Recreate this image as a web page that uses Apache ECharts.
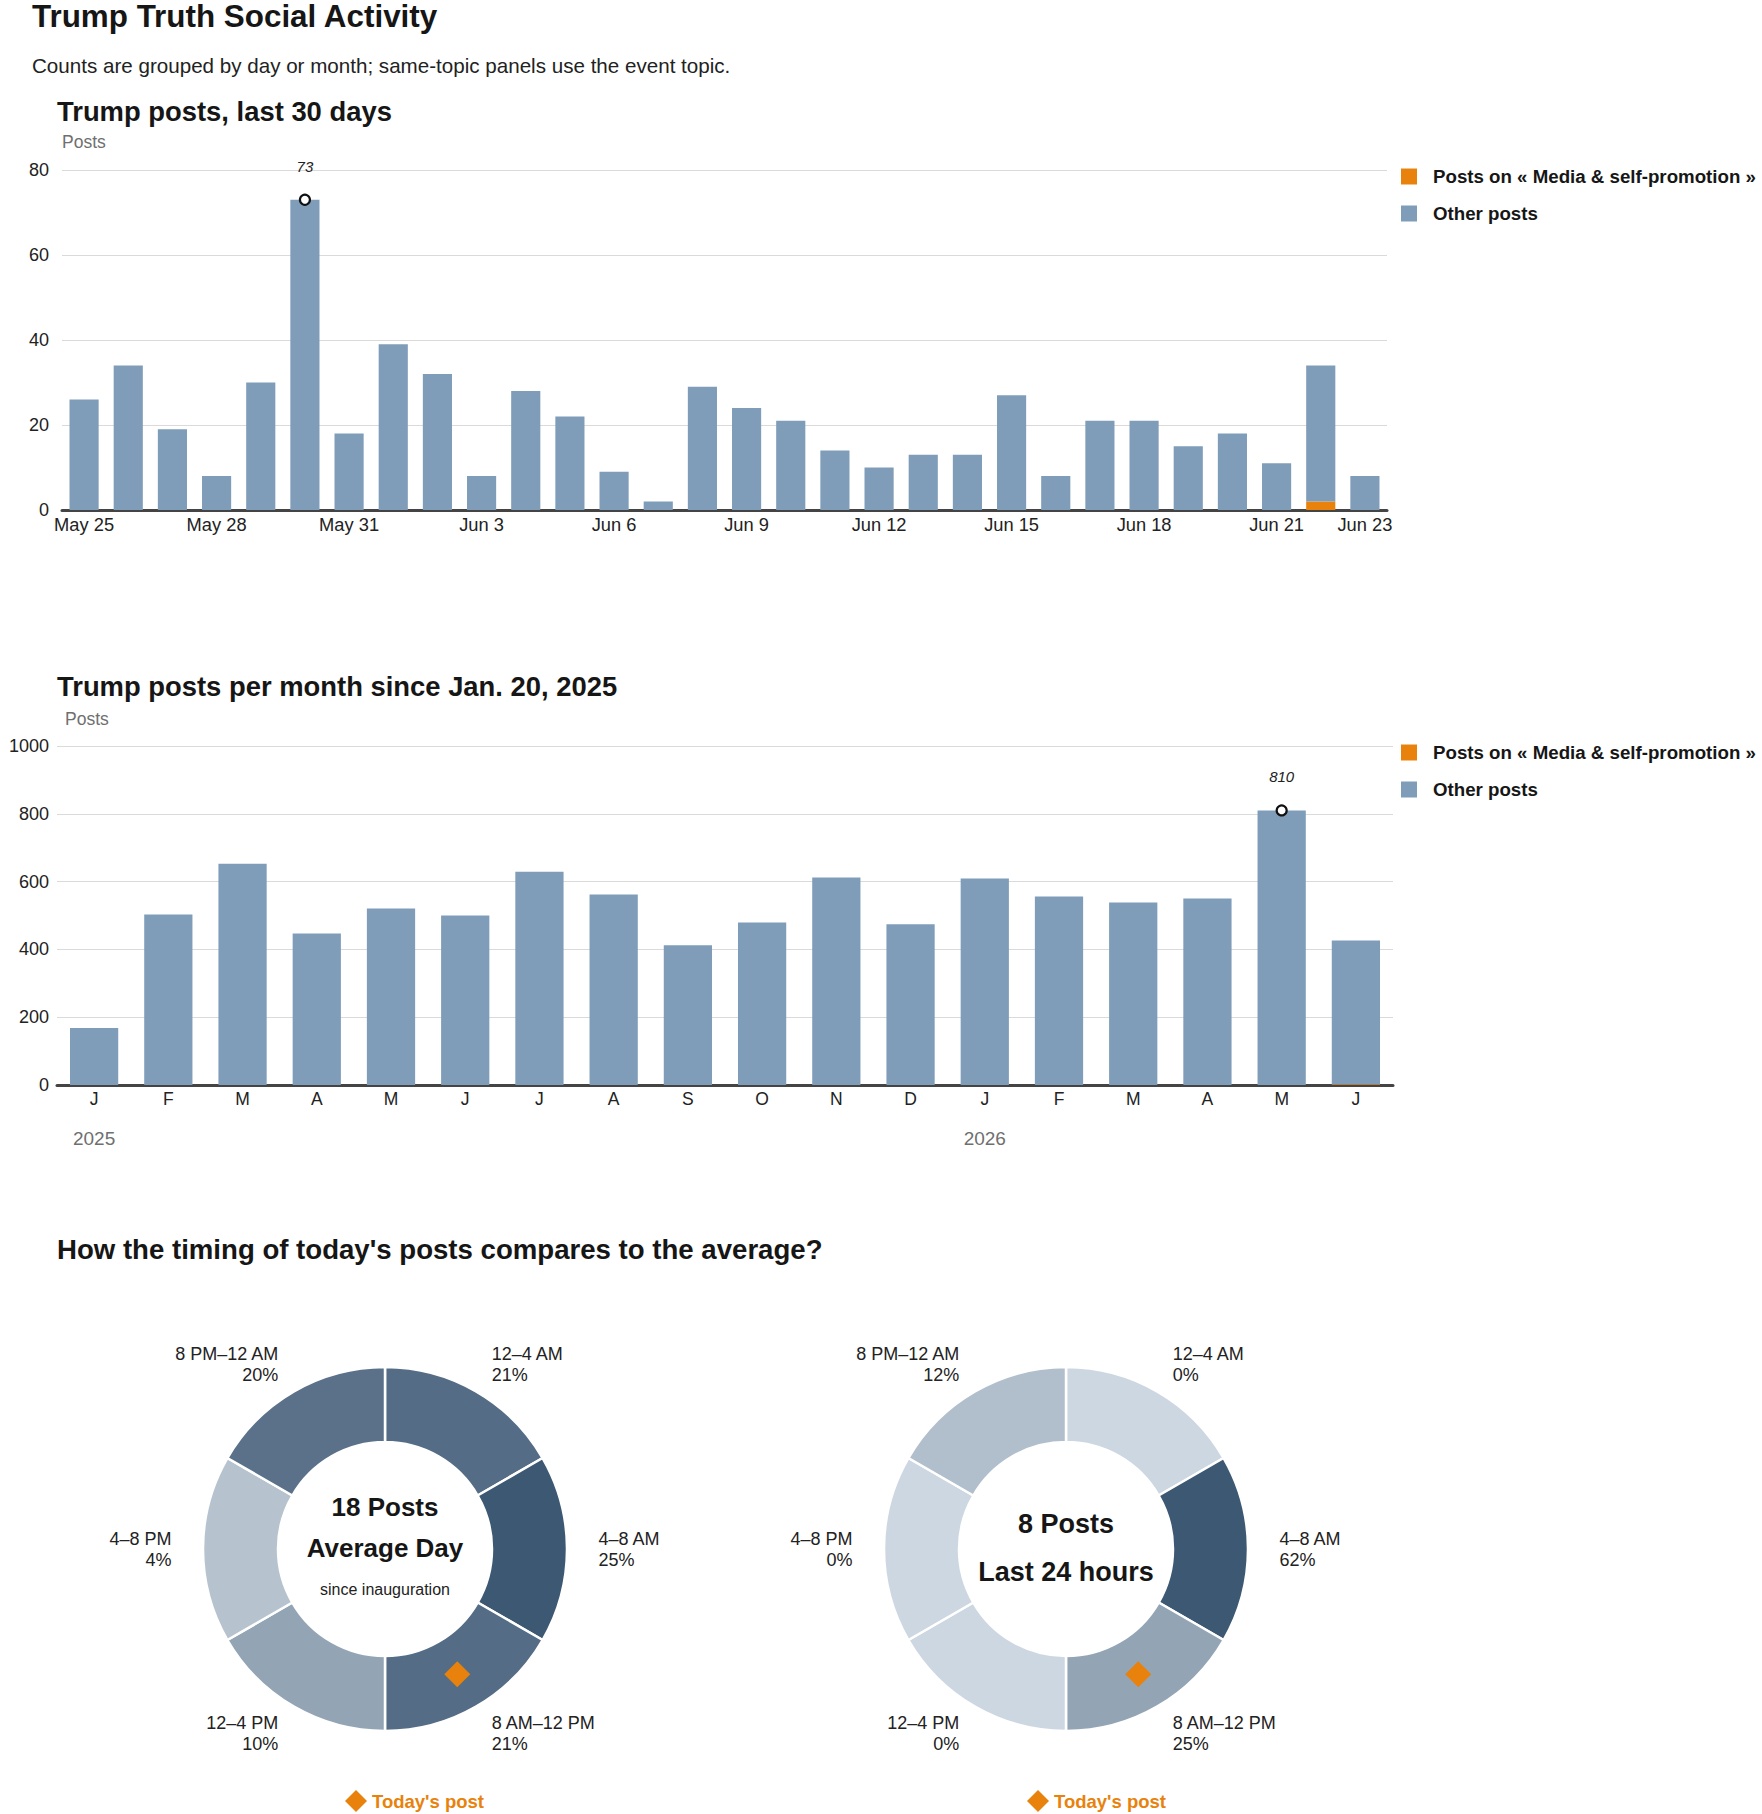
<!DOCTYPE html>
<html lang="en">
<head>
<meta charset="UTF-8">
<title>Trump Truth Social Activity</title>
<style>
  html, body { margin: 0; padding: 0; background: #fff; }
  #main { width: 1762px; height: 1814px; }
</style>
<script src="https://cdn.jsdelivr.net/npm/echarts@6/dist/echarts.min.js"></script>
</head>
<body>
<div id="main"></div>
<script>
// last 30 days
var dayLabels = ['May 25', 'May 26', 'May 27', 'May 28', 'May 29', 'May 30', 'May 31',
  'Jun 1', 'Jun 2', 'Jun 3', 'Jun 4', 'Jun 5', 'Jun 6', 'Jun 7', 'Jun 8', 'Jun 9', 'Jun 10',
  'Jun 11', 'Jun 12', 'Jun 13', 'Jun 14', 'Jun 15', 'Jun 16', 'Jun 17', 'Jun 18', 'Jun 19',
  'Jun 20', 'Jun 21', 'Jun 22', 'Jun 23'];
var dayMedia = [0, 0, 0, 0, 0, 0, 0, 0, 0, 0, 0, 0, 0, 0, 0, 0, 0, 0, 0, 0, 0, 0, 0, 0, 0, 0, 0, 0, 2, 0];
var dayOther = [26, 34, 19, 8, 30, 73, 18, 39, 32, 8, 28, 22, 9, 2, 29, 24, 21, 14, 10, 13, 13, 27, 8, 21, 21, 15, 18, 11, 32, 8];

// per month since inauguration
var monthKeys = ['2025-01', '2025-02', '2025-03', '2025-04', '2025-05', '2025-06', '2025-07', '2025-08', '2025-09',
  '2025-10', '2025-11', '2025-12', '2026-01', '2026-02', '2026-03', '2026-04', '2026-05', '2026-06'];
var monthLetters = ['J', 'F', 'M', 'A', 'M', 'J', 'J', 'A', 'S', 'O', 'N', 'D', 'J', 'F', 'M', 'A', 'M', 'J'];
var monthMedia = [0, 0, 0, 0, 0, 0, 0, 0, 0, 0, 0, 0, 0, 0, 0, 0, 0, 2];
var monthOther = [168, 503, 653, 447, 521, 500, 629, 562, 412, 479, 612, 474, 609, 556, 538, 550, 810, 424];

// time of day shares (%)
var slots = ['12–4 AM', '4–8 AM', '8 AM–12 PM', '12–4 PM', '4–8 PM', '8 PM–12 AM'];
var avgShare = [21, 25, 21, 10, 4, 20];
var lastShare = [0, 62, 25, 0, 0, 12];
var avgPosts = 18;
var lastPosts = 8;
var todaySlot = '8 AM–12 PM';

var MEDIA = 'Posts on « Media & self-promotion »';
var OTHER = 'Other posts';
var TODAY = "Today's post";
var FONT = '"Liberation Sans", Arial, sans-serif';
var NARROW = '"Liberation Sans Narrow", "Liberation Sans", sans-serif';
var BLUE = '#7f9db9', ORANGE = '#e8820c', INK = '#161616', GREY = '#6f6f6f';

function total(a, b) { return a.map(function (v, i) { return v + b[i]; }); }
function argMax(a) { var m = 0; a.forEach(function (v, i) { if (v > a[m]) m = i; }); return m; }
function mix(c1, c2, t) {
  var a = [1, 3, 5].map(function (k) { return parseInt(c1.substr(k, 2), 16); });
  var b = [1, 3, 5].map(function (k) { return parseInt(c2.substr(k, 2), 16); });
  return 'rgb(' + a.map(function (v, i) { return Math.round(v + (b[i] - v) * t); }).join(',') + ')';
}

var dayTotal = total(dayMedia, dayOther);
var monthTotal = total(monthMedia, monthOther);
var dayPeak = argMax(dayTotal), monthPeak = argMax(monthTotal);

function pieData(shares) {
  var max = Math.max.apply(null, shares);
  return slots.map(function (s, i) {
    return { name: s, value: 1, pct: shares[i],
      itemStyle: { color: mix('#cdd7e1', '#3d5873', shares[i] / max) } };
  });
}

var myChart = echarts.init(document.getElementById('main'), null, { renderer: 'svg' });

var legendText = { fontFamily: FONT, fontWeight: 'bold', fontSize: 18.7, color: INK, padding: [0, 0, 0, 11] };
var valueLabel = { fontFamily: FONT, fontSize: 18, color: '#222', formatter: function (v) { return String(v); } };
var peakStyle = {
  type: 'scatter', symbol: 'circle', symbolSize: 10, silent: true, z: 5,
  itemStyle: { color: '#fff', borderColor: '#111', borderWidth: 2.2, opacity: 1 },
  label: { show: true, position: 'top', distance: 20, fontFamily: NARROW, fontStyle: 'italic', fontSize: 15, color: '#222',
    formatter: function (p) { return p.value[1]; } }
};

function txt(x, y, text, font, fill, align, vAlign) {
  return { type: 'text', x: x, y: y, silent: true,
    style: { text: text, font: font, fill: fill || INK, align: align || 'left', verticalAlign: vAlign || 'middle' } };
}

var R0 = 107, R1 = 182;
var donutC = [[385, 1549], [1066, 1549]];

var option = {
  animation: false,
  graphic: [
    txt(32, 1, 'Trump Truth Social Activity', 'bold 31.4px ' + FONT, INK, 'left', 'top'),
    txt(32, 65, 'Counts are grouped by day or month; same-topic panels use the event topic.', '20.6px ' + FONT, '#222'),
    txt(57, 111, 'Trump posts, last 30 days', 'bold 27.4px ' + FONT),
    txt(57, 686, 'Trump posts per month since Jan. 20, 2025', 'bold 27.4px ' + FONT),
    txt(57, 1249, "How the timing of today's posts compares to the average?", 'bold 27.6px ' + FONT),
    txt(donutC[0][0], 1507, avgPosts + ' Posts', 'bold 26px ' + FONT, INK, 'center'),
    txt(donutC[0][0], 1548, 'Average Day', 'bold 26px ' + FONT, INK, 'center'),
    txt(donutC[0][0], 1589, 'since inauguration', '16px ' + FONT, '#222', 'center'),
    txt(donutC[1][0], 1524, lastPosts + ' Posts', 'bold 27px ' + FONT, INK, 'center'),
    txt(donutC[1][0], 1572, 'Last 24 hours', 'bold 27px ' + FONT, INK, 'center')
  ],
  legend: [
    { data: [MEDIA, OTHER], orient: 'vertical', left: 1401, top: 167, padding: 0, itemWidth: 16, itemHeight: 16,
      itemGap: 18, icon: 'rect', selectedMode: false, textStyle: legendText },
    { data: [MEDIA, OTHER], orient: 'vertical', left: 1401, top: 743, padding: 0, itemWidth: 16, itemHeight: 16,
      itemGap: 18, icon: 'rect', selectedMode: false, textStyle: legendText },
    { data: [{ name: TODAY, icon: 'diamond' }], left: 345, top: 1790, padding: 0, itemWidth: 22, itemHeight: 22,
      selectedMode: false, textStyle: { fontFamily: FONT, fontWeight: 'bold', fontSize: 18.5, color: ORANGE } },
    { data: [{ name: TODAY, icon: 'diamond' }], left: 1027, top: 1790, padding: 0, itemWidth: 22, itemHeight: 22,
      selectedMode: false, textStyle: { fontFamily: FONT, fontWeight: 'bold', fontSize: 18.5, color: ORANGE } }
  ],
  grid: [
    { left: 62, top: 170, width: 1325, height: 340 },
    { left: 57, top: 746, width: 1336, height: 339 }
  ],
  xAxis: [
    { type: 'category', gridIndex: 0, data: dayLabels,
      axisTick: { show: false },
      axisLine: { lineStyle: { color: '#444', width: 3 } },
      axisLabel: { fontFamily: FONT, color: '#222', fontSize: 18.3, margin: 5,
        interval: function (i) { return i % 3 === 0 || i === dayLabels.length - 1; } } },
    { type: 'category', gridIndex: 1, data: monthKeys,
      axisTick: { show: false },
      axisLine: { lineStyle: { color: '#444', width: 3 } },
      axisLabel: { interval: 0, margin: 5,
        formatter: function (v, i) {
          var yr = v.slice(0, 4);
          var first = i === 0 || monthKeys[i - 1].slice(0, 4) !== yr;
          return '{m|' + monthLetters[i] + '}' + (first ? '\n{y|' + yr + '}' : '');
        },
        rich: {
          m: { fontFamily: FONT, fontSize: 17.5, color: '#222', lineHeight: 18 },
          y: { fontFamily: FONT, fontSize: 19, color: GREY, lineHeight: 60 }
        } } }
  ],
  yAxis: [
    { type: 'value', gridIndex: 0, min: 0, max: 80, interval: 20,
      name: 'Posts', nameLocation: 'end', nameGap: 28,
      nameTextStyle: { fontFamily: FONT, fontSize: 17.5, color: GREY, align: 'left', verticalAlign: 'middle' },
      axisLabel: Object.assign({ margin: 13 }, valueLabel),
      splitLine: { lineStyle: { color: '#dadada', width: 1 } } },
    { type: 'value', gridIndex: 1, min: 0, max: 1000, interval: 200,
      name: 'Posts', nameLocation: 'end', nameGap: 27,
      nameTextStyle: { fontFamily: FONT, fontSize: 17.5, color: GREY, align: 'left', verticalAlign: 'middle', padding: [0, 0, 0, 8] },
      axisLabel: Object.assign({ margin: 8 }, valueLabel),
      splitLine: { lineStyle: { color: '#dadada', width: 1 } } }
  ],
  polar: [
    { center: donutC[0], radius: R1 },
    { center: donutC[1], radius: R1 }
  ],
  angleAxis: [0, 1].map(function (k) {
    return { polarIndex: k, type: 'category', data: slots, startAngle: 90, clockwise: true,
      axisLine: { show: false }, axisTick: { show: false }, axisLabel: { show: false }, splitLine: { show: false } };
  }),
  radiusAxis: [0, 1].map(function (k) {
    return { polarIndex: k, min: 0, max: R1, axisLine: { show: false }, axisTick: { show: false },
      axisLabel: { show: false }, splitLine: { show: false } };
  }),
  series: [
    { name: MEDIA, type: 'bar', xAxisIndex: 0, yAxisIndex: 0, stack: 'day', barWidth: '66%',
      itemStyle: { color: ORANGE }, data: dayMedia },
    { name: OTHER, type: 'bar', xAxisIndex: 0, yAxisIndex: 0, stack: 'day', barWidth: '66%',
      itemStyle: { color: BLUE }, data: dayOther },
    Object.assign({ xAxisIndex: 0, yAxisIndex: 0, data: [[dayPeak, dayTotal[dayPeak]]] }, peakStyle),
    { name: MEDIA, type: 'bar', xAxisIndex: 1, yAxisIndex: 1, stack: 'month', barWidth: '65%',
      itemStyle: { color: ORANGE }, data: monthMedia },
    { name: OTHER, type: 'bar', xAxisIndex: 1, yAxisIndex: 1, stack: 'month', barWidth: '65%',
      itemStyle: { color: BLUE }, data: monthOther },
    Object.assign({ xAxisIndex: 1, yAxisIndex: 1, data: [[monthPeak, monthTotal[monthPeak]]] }, peakStyle)
  ].concat([avgShare, lastShare].map(function (shares, k) {
    return {
      type: 'pie', center: donutC[k], radius: [R0, R1], startAngle: 90, clockwise: true,
      avoidLabelOverlap: false, silent: true,
      itemStyle: { borderColor: '#fff', borderWidth: 2.5 },
      label: { show: true, position: 'outside', distanceToLabelLine: 0,
        fontFamily: FONT, fontSize: 18, lineHeight: 21, color: '#222',
        formatter: function (p) { return p.name + '\n' + p.data.pct + '%'; } },
      labelLine: { show: false, length: 31.5, length2: 0 },
      data: pieData(shares)
    };
  })).concat([0, 1].map(function (k) {
    return { name: TODAY, type: 'scatter', coordinateSystem: 'polar', polarIndex: k, z: 5,
      symbol: 'diamond', symbolSize: 26, silent: true, itemStyle: { color: ORANGE, opacity: 1 },
      data: [[(R0 + R1) / 2, todaySlot]] };
  }))
};
myChart.setOption(option);
</script>
</body>
</html>
